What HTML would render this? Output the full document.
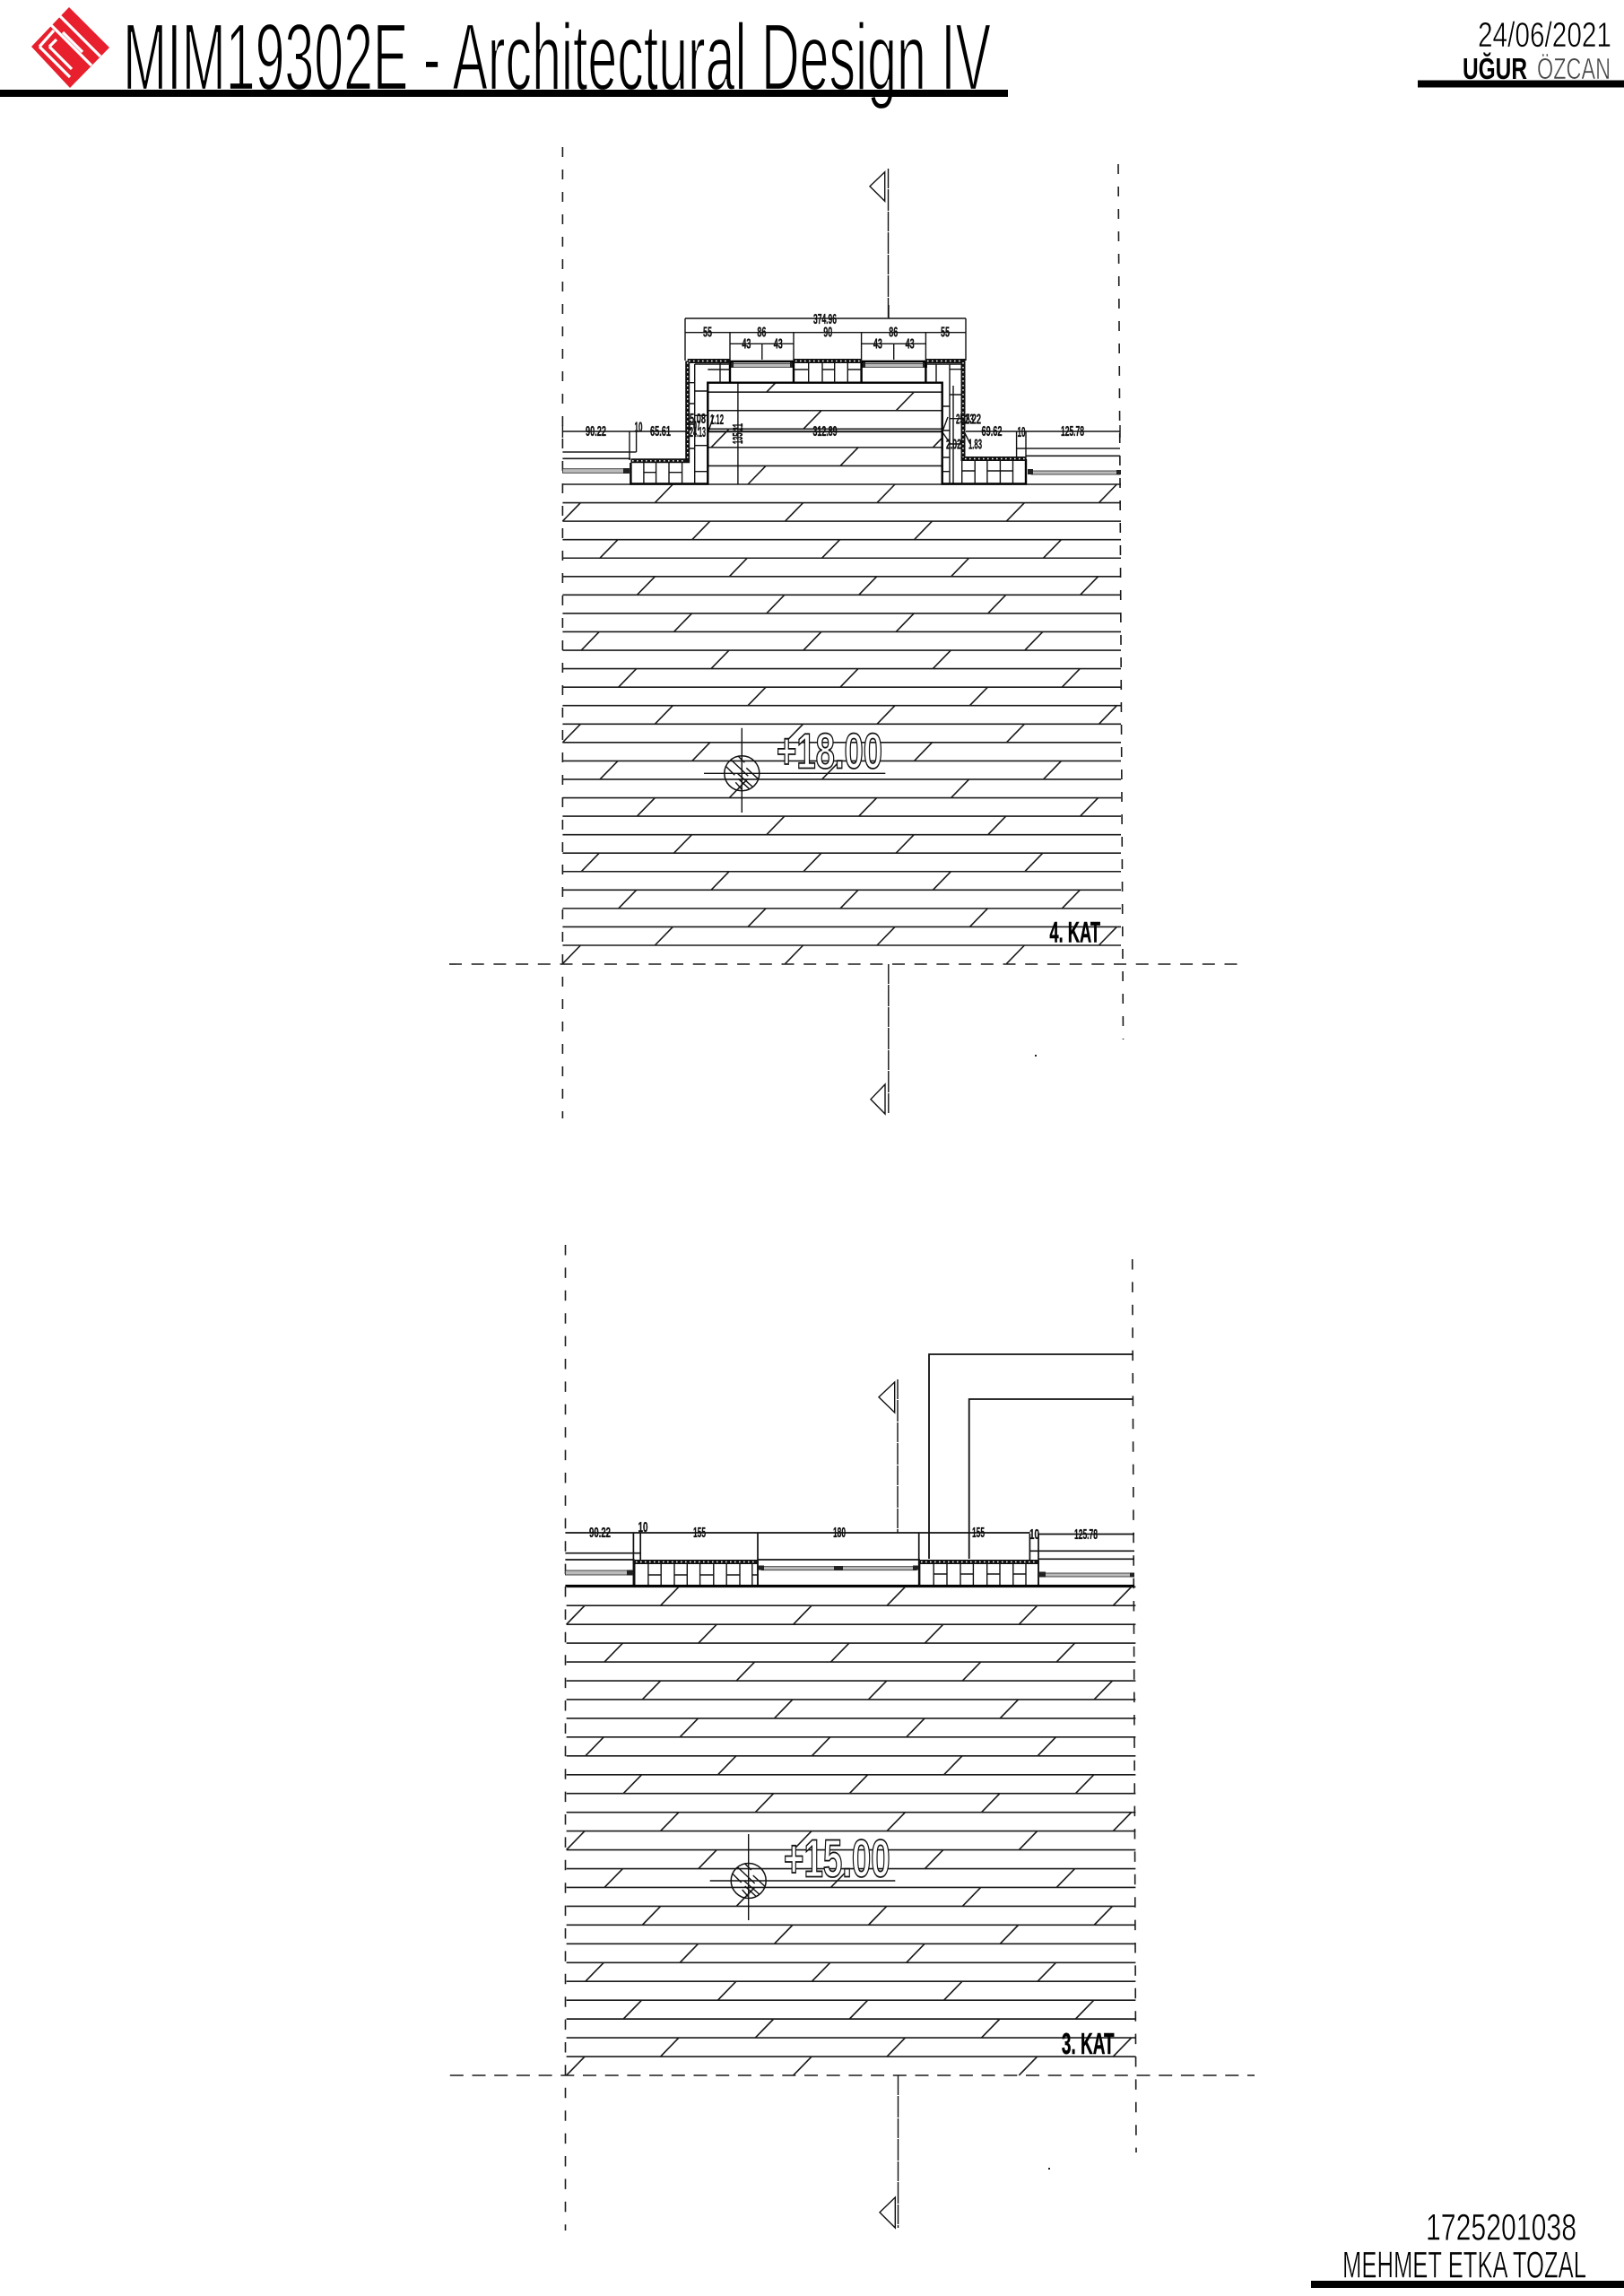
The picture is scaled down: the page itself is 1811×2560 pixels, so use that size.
<!DOCTYPE html>
<html><head><meta charset="utf-8"><style>
html,body{margin:0;padding:0;background:#fff}
svg{display:block}
text{font-family:"Liberation Sans",sans-serif;fill:#000}
.d{font-size:15.5px;font-weight:bold;text-anchor:start;fill:#111;stroke:#111;stroke-width:.35}
.h{stroke:#1a1a1a;stroke-width:1.6;fill:none}
.t{stroke:#111;stroke-width:1.4;fill:none}
.b{stroke:#000;stroke-width:2.4;fill:none}
.ins{stroke:#111;stroke-width:5;fill:none}
.dot{stroke:#fff;stroke-width:1.4;stroke-dasharray:1.6 3.4;fill:none}
.dash{stroke:#1a1a1a;stroke-width:1.6;fill:none}
.lvl{font-size:56px;font-weight:bold;fill:#fff;stroke:#111;stroke-width:1.8}
.kat{font-weight:bold;font-size:32px;stroke:#111;stroke-width:.5}
.thin{stroke:#fff;stroke-width:.6}
</style></head><body>
<svg width="1811" height="2560" viewBox="0 0 1811 2560" xmlns="http://www.w3.org/2000/svg">
<rect width="1811" height="2560" fill="#fff"/>
<defs>
<g id="block">
<path class="h" d="M730.3 560.56l20-20.56M978 560.56l20-20.56M1225.4 560.56l20-20.56
M627.4 581.12l20-20.56M875.6 581.12l20-20.56M1122.4 581.12l20-20.56
M771.8 601.68l20-20.56M1019.5 601.68l20-20.56
M669 622.24l20-20.56M916.6 622.24l20-20.56M1163.5 622.24l20-20.56
M813.3 642.8l20-20.56M1060.6 642.8l20-20.56
M710.4 663.36l20-20.56M957.7 663.36l20-20.56M1204.6 663.36l20-20.56
M854.8 683.92l20-20.56M1101.7 683.92l20-20.56
M751.5 704.48l20-20.56M999.2 704.48l20-20.56
M648.2 725.04l20-20.56M895.9 725.04l20-20.56M1142.8 725.04l20-20.56
M793 745.6l20-20.56M1040.3 745.6l20-20.56
M689.7 766.16l20-20.56M937 766.16l20-20.56M1184.3 766.16l20-20.56
M834 786.72l20-20.56M1081.4 786.72l20-20.56"/>
</g>
<g id="hatch">
<use href="#block"/>
<use href="#block" y="246.72"/>
<path class="h" d="M730.3 1054l20-20.56M978 1054l20-20.56M1225.4 1054l20-20.56M627.4 1074.56l20-20.56M875.6 1074.56l20-20.56M1122.4 1074.56l20-20.56"/>
<path class="h" d="M627.4 540H1250M627.4 560.56H1250M627.4 581.12H1250M627.4 601.68H1250M627.4 622.24H1250M627.4 642.8H1250M627.4 663.36H1250M627.4 683.92H1250M627.4 704.48H1250M627.4 725.04H1250M627.4 745.6H1250M627.4 766.16H1250M627.4 786.72H1250M627.4 807.28H1250M627.4 827.84H1250M627.4 848.4H1250M627.4 868.96H1250M627.4 889.52H1250M627.4 910.08H1250M627.4 930.64H1250M627.4 951.2H1250M627.4 971.76H1250M627.4 992.32H1250M627.4 1012.88H1250M627.4 1033.44H1250M627.4 1054H1250"/>
</g>
<g id="lvl">
<circle r="19.5" fill="none" stroke="#111" stroke-width="1.5"/>
<path class="t" d="M-12 -15L7 3M-18 -8L-8 2M-4 -19L3 -12M12 15L-5 0M18 6L5 -6M0 18L-7 10M8 17L-4 6"/>
</g>
</defs>

<!-- header -->
<g>
<polygon points="77,8 122,53 78,98 35,52" fill="#e8202e"/>
<path d="M67,18L112,63M57,28L102,73M70,36L92,58M44,52L60,34M44,52L78,86M55,52L63,44M55,52L80,77" stroke="#fff" stroke-width="3.2" fill="none"/>
</g>
<text x="137" y="100" font-size="106" textLength="968" lengthAdjust="spacingAndGlyphs" stroke="#fff" stroke-width="2.2">MIM19302E - Architectural Design IV</text>
<rect x="0" y="100" width="1124" height="8" fill="#000"/>

<text class="thin" x="1648" y="52" font-size="38.5" textLength="149" lengthAdjust="spacingAndGlyphs">24/06/2021</text>
<text x="1631" y="88" font-size="33.5" font-weight="bold" textLength="72" lengthAdjust="spacingAndGlyphs">UĞUR</text>
<text class="thin" x="1714" y="88" font-size="33.5" textLength="82" lengthAdjust="spacingAndGlyphs" style="fill:#444">ÖZCAN</text>
<rect x="1581" y="89.5" width="230" height="8" fill="#000"/>

<text class="thin" x="1590" y="2497.3" font-size="41.5" textLength="168" lengthAdjust="spacingAndGlyphs">1725201038</text>
<text class="thin" x="1497" y="2539.3" font-size="41.5" textLength="272" lengthAdjust="spacingAndGlyphs">MEHMET ETKA TOZAL</text>
<rect x="1462" y="2543" width="349" height="8" fill="#000"/>

<!-- PLAN 1 -->
<use href="#hatch"/>
<path class="dash" d="M627.4 164V1247" stroke-dasharray="11 14"/>
<path class="dash" d="M1247 183L1252.5 1159" stroke-dasharray="11 14"/>
<path class="dash" d="M501 1075H1382" stroke-dasharray="14 10.7"/>
<path class="t" d="M990.5 188V355" stroke-dasharray="22 1 24 1"/>
<path class="t" d="M990.8 1075V1242" stroke-dasharray="22 1 24 1"/>
<path class="t" d="M986.7 191.7L970 207.7L986.7 224.3Z"/>
<path class="t" d="M987 1209L971 1225.7L987 1242Z"/>
<rect x="1154" y="1176" width="2" height="2" fill="#222"/>

<!-- room hatch -->
<rect x="789.3" y="426.7" width="261.4" height="112" fill="#fff"/>
<path class="h" d="M789.3 519.44H1050.7M789.3 498.88H1050.7M789.3 478.32H1050.7M789.3 457.76H1050.7M789.3 437.2H1050.7M627.4 504H709.6M627.4 511.3H703M1134 500H1249M1144 508.3H1249M789.3 481.5H1050.7
M834 540l20-20.56M937 519.44l20-20.56M793 498.88l20-20.56M1040.3 498.88l10.4-10.7M895.9 478.32l20-20.56M999.2 457.76l20-20.56M854.8 437.2l10.2-10.5"/>
<!-- dims plan 1 -->
<path class="t" d="M764 355H1077M991 355V340M764 370.7H1077M814 383.3H885M960.6 383.3H1032.4M849.8 383.3V401M996.7 383.3V401M764 355V402M814 370.7V402M885 370.7V402M960.6 370.7V402M1032.4 370.7V402M1077 355V402
M627.4 481H766M790 481H1052M1077 481H1249M702 481V513M709.6 481V504M1133.6 481V510M1144 481V512M822.9 426.7V540M627.4 474V488M1249 474V488
M1063 430V540"/>
<path class="t" d="M790 481L796 463M1051 481L1057 465M1051 482L1060 495M1075 481L1082 495"/>
<!-- windows plan 1 -->
<g>
<rect x="627.4" y="522.7" width="70" height="4.6" fill="#bbb" stroke="#222" stroke-width=".8"/>
<rect x="695" y="522" width="7" height="6" fill="#222"/>
<rect x="1150" y="525" width="99" height="4" fill="#bbb" stroke="#222" stroke-width=".8"/>
<rect x="1146" y="523" width="6" height="6" fill="#222"/>
<rect x="1245" y="524" width="5" height="5" fill="#222"/>
<rect x="817" y="405.6" width="66" height="3.8" fill="#bbb" stroke="#222" stroke-width=".8"/>
<rect x="963.5" y="405.6" width="67" height="3.8" fill="#bbb" stroke="#222" stroke-width=".8"/>
<path class="b" d="M814 403H885M960.6 403H1032.4" stroke-width="1.6"/>
<rect x="813" y="404" width="5" height="6" fill="#222"/><rect x="881" y="404" width="5" height="6" fill="#222"/>
<rect x="960" y="404" width="5" height="6" fill="#222"/><rect x="1029" y="404" width="5" height="6" fill="#222"/>
</g>
<!-- walls plan 1 -->
<path class="b" d="M703.4 516V539.5H789.3V426.7H1050.7V539.5H1144V512M885 403V426.7M960.6 403V426.7M814 403V426.7M1032.4 403V426.7"/>
<path class="t" d="M717.9 516V540M731.6 516V540M746 516V540M760.6 516V540M774.7 406V540M717.9 526.7H731.6M746 526.7H760.6M774.7 525.7H789.3
M769 426.7H774.7M769 450H774.7M769 473H774.7M769 500H774.7M774.7 436H789.3M774.7 463.3H789.3M774.7 496.7H789.3
M803 405V426.7M789.3 412H814M774.7 406H814
M901.7 405V426.7M917 405V426.7M930.7 405V426.7M945.3 405V426.7M885 412H901.7M917 412H930.7M945.3 412H960.6
M1032.4 406H1072M1044 406V426.7M1059 406V540M1059 411.7H1072M1059 440H1072M1059 466.7H1072M1059 495H1072M1050.7 453H1059M1050.7 480H1059M1050.7 510H1059M1050.7 525.7H1059
M1072.7 514V540M1087.2 514V540M1100.9 514V540M1115.4 514V540M1129.5 514V540M1072.7 525H1087.2M1100.9 525H1115.4M1115.4 525H1129.5"/>
<path class="ins" d="M766.7 402.5V513.8H703.4M766.7 402.5H814M885 402.5H960.6M1032.4 402.5H1074V511.5H1144"/>
<path class="dot" d="M766.7 404V512M705 513.8H765M768 402.5H812M887 402.5H959M1034 402.5H1073M1074 404V510M1076 511.5H1143"/>
<!-- labels plan 1 -->
<text class="d" x="907" y="361" textLength="26" lengthAdjust="spacingAndGlyphs">374.96</text>
<text class="d" x="784" y="375.7" textLength="10" lengthAdjust="spacingAndGlyphs">55</text>
<text class="d" x="844.4" y="375.7" textLength="10" lengthAdjust="spacingAndGlyphs">86</text>
<text class="d" x="918.3" y="375.7" textLength="10" lengthAdjust="spacingAndGlyphs">90</text>
<text class="d" x="991.3" y="375.7" textLength="10" lengthAdjust="spacingAndGlyphs">86</text>
<text class="d" x="1049" y="375.7" textLength="10" lengthAdjust="spacingAndGlyphs">55</text>
<text class="d" x="827.4" y="388.3" textLength="10" lengthAdjust="spacingAndGlyphs">43</text>
<text class="d" x="862.7" y="388.3" textLength="10" lengthAdjust="spacingAndGlyphs">43</text>
<text class="d" x="973.9" y="388.3" textLength="10" lengthAdjust="spacingAndGlyphs">43</text>
<text class="d" x="1009.6" y="388.3" textLength="10" lengthAdjust="spacingAndGlyphs">43</text>
<text class="d" x="653" y="486" textLength="23" lengthAdjust="spacingAndGlyphs">90.22</text>
<text class="d" x="725" y="486" textLength="23" lengthAdjust="spacingAndGlyphs">65.61</text>
<text class="d" x="906.5" y="486" textLength="27" lengthAdjust="spacingAndGlyphs">312.89</text>
<text class="d" x="1094.5" y="486" textLength="23" lengthAdjust="spacingAndGlyphs">69.62</text>
<text class="d" x="707.5" y="481.5" textLength="9" lengthAdjust="spacingAndGlyphs">10</text>
<text class="d" x="1134.5" y="487" textLength="9" lengthAdjust="spacingAndGlyphs">10</text>
<text class="d" x="1183" y="486" textLength="26" lengthAdjust="spacingAndGlyphs">125.78</text>
<text class="d" x="769" y="472" textLength="18" lengthAdjust="spacingAndGlyphs">5.08</text>
<text class="d" x="792" y="473" textLength="15" lengthAdjust="spacingAndGlyphs">1.12</text>
<text class="d" x="767" y="480" textLength="14" lengthAdjust="spacingAndGlyphs">1.07</text>
<text class="d" x="769" y="487" textLength="18" lengthAdjust="spacingAndGlyphs">24.13</text>
<text class="d" x="1066" y="472.5" textLength="20" lengthAdjust="spacingAndGlyphs">25.53</text>
<text class="d" x="1076" y="472.5" textLength="18" lengthAdjust="spacingAndGlyphs">2.22</text>
<text class="d" x="1055" y="500.7" textLength="17" lengthAdjust="spacingAndGlyphs">2.02</text>
<text class="d" x="1080" y="500.7" textLength="15" lengthAdjust="spacingAndGlyphs">1.83</text>
<text class="d" transform="translate(828,495) rotate(-90)" textLength="23" lengthAdjust="spacingAndGlyphs">135.21</text>
<!-- level 1 -->
<use href="#lvl" x="827.3" y="862.3"/>
<path class="t" d="M827.3 811.7V906M785 862.3H987.3"/>
<text class="lvl" x="866" y="856.7" textLength="118" lengthAdjust="spacingAndGlyphs">+18.00</text>
<text class="kat" x="1170.4" y="1050.7" textLength="56.7" lengthAdjust="spacingAndGlyphs">4. KAT</text>

<!-- PLAN 2 -->
<use href="#hatch" transform="matrix(1.0195 0 0 1.019 -8 1219)"/>
<path class="dash" d="M630.5 1388V2487" stroke-dasharray="11.5 13.9"/>
<path class="dash" d="M1262.7 1404L1267 2400" stroke-dasharray="11.5 13.9"/>
<path class="dash" d="M501.8 2314H1399" stroke-dasharray="15 9.7" stroke-width="2"/>
<path class="t" d="M1001 1538V1709" stroke-dasharray="22 1 24 1"/>
<path class="t" d="M1001.5 2314V2484" stroke-dasharray="22 1 24 1"/>
<path class="t" d="M997.7 1541L980 1557.7L997.7 1575Z"/>
<path class="t" d="M998.3 2450L981 2466.7L998.3 2484Z"/>
<rect x="1169" y="2417" width="2" height="2" fill="#222"/>
<path class="t" style="stroke-width:1.8" d="M1036 1738V1510H1263M1080.7 1738V1560H1263"/>
<!-- dims plan 2 -->
<path class="t" style="stroke-width:1.7" d="M630.4 1709H1148.4M1158 1710.5H1265M630.4 1731.7H714.2M630.4 1739H707.7M845 1739H1026M1158 1738.3H1265M1148.4 1729.3H1265
M706.4 1709V1768M714.2 1709V1739M845 1709V1768M1024.7 1709V1768M1148.4 1710V1739M1158 1710V1768"/>
<!-- windows plan 2 -->
<rect x="630.4" y="1751" width="69" height="5" fill="#bbb" stroke="#222" stroke-width=".8"/>
<rect x="699" y="1750.5" width="7" height="6" fill="#222"/>
<rect x="849" y="1746.7" width="173" height="4" fill="#bbb" stroke="#222" stroke-width=".8"/>
<rect x="845" y="1745.5" width="7" height="5" fill="#222"/><rect x="930" y="1746" width="10" height="5" fill="#222"/><rect x="1018" y="1745.5" width="7" height="5" fill="#222"/>
<rect x="1165" y="1754" width="99" height="4" fill="#bbb" stroke="#222" stroke-width=".8"/>
<rect x="1159" y="1752.5" width="7" height="6" fill="#222"/><rect x="1260" y="1753.5" width="5" height="5" fill="#222"/>
<!-- blocks plan 2 -->
<path class="t" style="stroke-width:1.6" d="M707.7 1740V1768.5H845V1740M1025.5 1740V1768.5H1158V1740"/>
<path class="t" d="M722.9 1744V1768M737.2 1744V1768M752 1744V1768M766.3 1744V1768M780.6 1744V1768M795.8 1744V1768M810.2 1744V1768M825 1744V1768M838.8 1744V1768
M722.9 1756H737.2M752 1756H766.3M780.6 1756H795.8M810.2 1756H825M838.8 1756H845
M1041.2 1744V1768M1056 1744V1768M1071 1744V1768M1085.4 1744V1768M1100.7 1744V1768M1115 1744V1768M1129.8 1744V1768M1144 1744V1768
M1041.2 1755H1056M1071 1755H1085.4M1100.7 1755H1115M1129.8 1755H1144"/>
<path class="ins" d="M707.7 1741.5H845M1026 1741.5H1158"/>
<path class="dot" d="M709 1741.5H844M1027 1741.5H1157"/>
<path stroke="#000" stroke-width="2.2" fill="none" d="M630.4 1768H1265"/>
<path class="t" d="M1025.5 1740V1769"/>
<!-- labels plan 2 -->
<text class="d" x="657" y="1714" textLength="24" lengthAdjust="spacingAndGlyphs">90.22</text>
<text class="d" x="711.5" y="1708" textLength="11" lengthAdjust="spacingAndGlyphs">10</text>
<text class="d" x="773" y="1714" textLength="14" lengthAdjust="spacingAndGlyphs">155</text>
<text class="d" x="929" y="1714" textLength="14" lengthAdjust="spacingAndGlyphs">180</text>
<text class="d" x="1084" y="1714" textLength="14" lengthAdjust="spacingAndGlyphs">155</text>
<text class="d" x="1148" y="1716" textLength="11" lengthAdjust="spacingAndGlyphs">10</text>
<text class="d" x="1198" y="1716" textLength="26" lengthAdjust="spacingAndGlyphs">125.78</text>
<!-- level 2 -->
<use href="#lvl" x="834.7" y="2097"/>
<path class="t" d="M834.7 2045V2141M791.7 2097H998.3"/>
<text class="lvl" x="874" y="2092.3" style="font-size:59.4px" textLength="118.7" lengthAdjust="spacingAndGlyphs">+15.00</text>
<text class="kat" x="1183.9" y="2290" textLength="58.7" lengthAdjust="spacingAndGlyphs" style="font-size:33.5px">3. KAT</text>
</svg>
</body></html>
